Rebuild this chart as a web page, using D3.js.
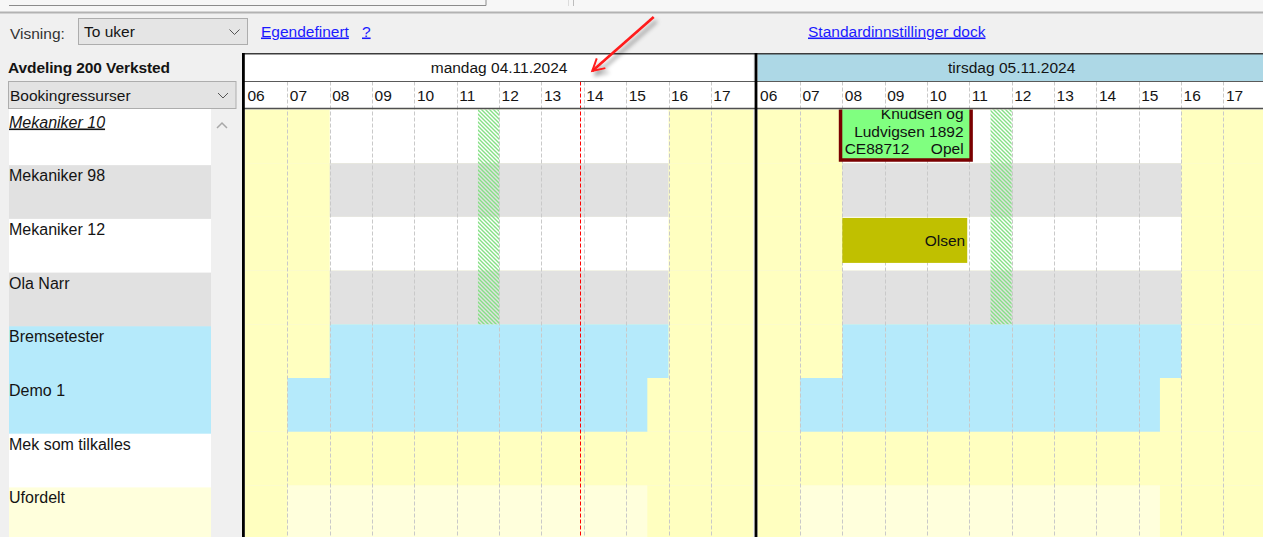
<!DOCTYPE html>
<html>
<head>
<meta charset="utf-8">
<script src="https://cdn.jsdelivr.net/npm/d3@7"></script>
<style>
  html, body { margin: 0; padding: 0; background: #f0f0f0; overflow: hidden; }
  svg { display: block; font-family: "Liberation Sans", Arial, sans-serif; }
  text { fill: #141414; }
</style>
</head>
<body>
<svg></svg>
<script>
// ---- data ----
var days = ["mandag 04.11.2024", "tirsdag 05.11.2024"];
var hourLabels = ["06", "07", "08", "09", "10", "11", "12", "13", "14", "15", "16", "17"];
var resources = ["Mekaniker 10", "Mekaniker 98", "Mekaniker 12", "Ola Narr",
                 "Bremsetester", "Demo 1", "Mek som tilkalles", "Ufordelt"];
var resourceKind = ["person", "person", "person", "person", "machine", "machine", "oncall", "unassigned"];
var workFrom = [8, 8, 8, 8, 8, 7, null, 7];
var workTo = [16, 16, 16, 16, 16, 15.5, null, 15.5];
var lunchRows = ["Mekaniker 10", "Mekaniker 98", "Mekaniker 12", "Ola Narr"];
var lunchFrom = 11.5, lunchTo = 12;
var bookingResource = ["Mekaniker 10", "Mekaniker 12"];
var bookingDay = [1, 1];
var bookingFrom = [8, 8];
var bookingTo = [11, 10.95];
var bookingText = [["Knudsen og", "Ludvigsen 1892", "CE88712     Opel"], ["Olsen"]];
var bookingStatus = ["arrived", "planned"];
var nowDay = 0, nowHour = 13.9;
var viewChoice = "To uker", listChoice = "Bookingressurser", department = "Avdeling 200 Verksted";

// ---- layout ----
var width = 1263, height = 537;
var headTop = 53, dayRowBottom = 81.5, hourRowBottom = 108.5, rowH = 53.7;

var hourX = d3.scaleLinear().domain([6, 18]).range([0, 508.2]);
var dayX = d3.scaleLinear().domain([0, 1]).range([245, 757.6]);
function tx(day, h) { return dayX(day) + hourX(h); }

var y = d3.scaleBand().domain(resources).range([109.5, 109.5 + resources.length * rowH]);
var yList = d3.scaleBand().domain(resources).range([111.5, 111.5 + resources.length * rowH]);

var offColor = "#ffffc0";
function workColor(i) {
  var k = resourceKind[i];
  if (k == "person") return i % 2 ? "#e1e1e1" : "#ffffff";
  if (k == "machine") return "#b5eafb";
  if (k == "unassigned") return "#ffffdc";
  return offColor;
}
function listColor(i) {
  return resourceKind[i] == "oncall" ? "#ffffff" : workColor(i);
}
var statusStyle = {
  arrived: {fill: "#80ff80", stroke: "#7a0000", sw: 3.5, top: -3, h: 53.5, pad: 7.5, first: 9.8},
  planned: {fill: "#c0c000", stroke: "none", sw: 0, top: 1, h: 45, pad: 2, first: 0}
};

var svg = d3.select("svg").attr("width", width).attr("height", height);
var defs = svg.append("defs");

// hatch for lunch
defs.append("pattern")
    .attr("id", "hatch")
    .attr("patternUnits", "userSpaceOnUse")
    .attr("width", 4).attr("height", 4)
  .append("path")
    .attr("d", "M-1,-1 L5,5 M-1,3 L1,5 M3,-1 L5,1")
    .attr("stroke", "#86e086")
    .attr("stroke-width", 1.4);

defs.append("clipPath").attr("id", "chartClip")
  .append("rect").attr("x", 242).attr("y", headTop).attr("width", width - 242).attr("height", height - headTop);
defs.append("clipPath").attr("id", "rowsClip")
  .append("rect").attr("x", 242).attr("y", y.range()[0]).attr("width", width - 242).attr("height", height - y.range()[0]);

var shadow = defs.append("filter").attr("id", "shadow").attr("x", "-30%").attr("y", "-30%").attr("width", "160%").attr("height", "160%");
shadow.append("feDropShadow").attr("dx", 3).attr("dy", 4).attr("stdDeviation", 2)
    .attr("flood-color", "#000").attr("flood-opacity", 0.4);

defs.append("marker")
    .attr("id", "head")
    .attr("viewBox", "0 0 12 12")
    .attr("refX", 10).attr("refY", 6)
    .attr("markerWidth", 6).attr("markerHeight", 6)
    .attr("markerUnits", "strokeWidth")
    .attr("orient", "auto")
  .append("path")
    .attr("d", "M1,1 L10,6 L1,11")
    .attr("fill", "none")
    .attr("stroke", "#ff1a1a")
    .attr("stroke-width", 1.5);

// ---- window chrome / toolbar ----
svg.append("rect").attr("width", width).attr("height", height).attr("fill", "#f0f0f0");
svg.append("rect").attr("width", width).attr("height", 12).attr("fill", "#f7f7f7");
svg.append("path").attr("d", "M9,5.5 H486 V0").attr("fill", "none").attr("stroke", "#8c8c8c");
svg.append("line").attr("x1", 568.5).attr("x2", 568.5).attr("y1", 0).attr("y2", 6).attr("stroke", "#dcdcdc");
svg.append("line").attr("x1", 573.5).attr("x2", 573.5).attr("y1", 0).attr("y2", 6).attr("stroke", "#bdbdbd");
svg.append("line").attr("x1", 0).attr("x2", width).attr("y1", 12.5).attr("y2", 12.5).attr("stroke", "#b2b2b2").attr("stroke-width", 2);

svg.append("text").attr("x", 10).attr("y", 38.5).style("font-size", "15.5px").style("fill", "#333").text("Visning:");
function combo(x, yy, w, h, label, fill, textX) {
  svg.append("rect").attr("x", x).attr("y", yy).attr("width", w).attr("height", h)
      .attr("fill", fill).attr("stroke", "#adadad");
  svg.append("text").attr("x", textX).attr("y", yy + h / 2 + 5.5)
      .style("font-size", "15.5px").text(label);
  var cx = x + w - 13, cy = yy + h / 2;
  svg.append("path").attr("d", `M${cx - 5},${cy - 2} L${cx},${cy + 3} L${cx + 5},${cy - 2}`)
      .attr("fill", "none").attr("stroke", "#555");
}
combo(78.5, 18.5, 169, 26, viewChoice, "#e5e5e5", 84);

function link(x, yy, label) {
  svg.append("text").attr("x", x).attr("y", yy)
      .style("font-size", "15.5px").style("fill", "#1a1aff")
      .style("text-decoration", "underline").text(label);
}
link(261, 36.5, "Egendefinert");
link(362, 36.5, "?");
link(808, 36.5, "Standardinnstillinger dock");

// ---- left list ----
svg.append("text").attr("x", 8).attr("y", 72.5)
    .style("font-size", "15.5px").style("font-weight", "bold").style("letter-spacing", "-0.1px")
    .text(department);
combo(8.5, 81.5, 227.5, 27, listChoice, "#e3e3e3", 10);

var list = svg.append("g");
list.selectAll("rect")
  .data(resources)
  .enter()
  .append("rect")
    .attr("x", 9)
    .attr("y", (d, i) => i == 0 ? 109 : yList(d))
    .attr("width", 202)
    .attr("height", (d, i) => i == 0 ? yList.bandwidth() + yList(d) - 109 : yList.bandwidth() + 0.5)
    .attr("fill", (d, i) => listColor(i));
list.selectAll("text")
  .data(resources)
  .enter()
  .append("text")
    .attr("x", 9)
    .attr("y", d => yList(d) + 16)
    .style("font-size", "16px")
    .style("font-style", (d, i) => i == 0 ? "italic" : null)
    .style("text-decoration", (d, i) => i == 0 ? "underline" : null)
    .text(d => d);

// scrollbar
svg.append("rect").attr("x", 212).attr("y", 109).attr("width", 24).attr("height", height - 109).attr("fill", "#f0f0f0");
svg.append("path").attr("d", "M217,128 L222,123 L227,128").attr("fill", "none")
    .attr("stroke", "#a8a8a8").attr("stroke-width", 1.5);

// ---- chart ----
var chart = svg.append("g").attr("clip-path", "url(#chartClip)");
var dayIdx = d3.range(days.length);

// day header
chart.selectAll(".dayHead")
  .data(dayIdx)
  .enter()
  .append("rect")
    .attr("x", d => tx(d, 6))
    .attr("y", headTop)
    .attr("width", hourX(18) - hourX(6))
    .attr("height", dayRowBottom - headTop)
    .attr("fill", d => d == 0 ? "#ffffff" : "#add8e6");
chart.selectAll(".dayLabel")
  .data(dayIdx)
  .enter()
  .append("text")
    .attr("x", d => tx(d, 12))
    .attr("y", 72.5)
    .style("text-anchor", "middle")
    .style("font-size", "15.5px")
    .text(d => days[d]);

// hour row
chart.append("rect").attr("x", 245).attr("y", dayRowBottom).attr("width", width - 245)
    .attr("height", hourRowBottom - dayRowBottom).attr("fill", "#ffffff");

// rows: off-hours then working span
var cells = [];
dayIdx.forEach(d => resources.forEach((r, i) => cells.push({day: d, res: r, i: i})));

chart.selectAll(".off")
  .data(cells)
  .enter()
  .append("rect")
    .attr("x", c => tx(c.day, 6))
    .attr("y", c => y(c.res))
    .attr("width", hourX(18) - hourX(6))
    .attr("height", y.bandwidth())
    .attr("fill", offColor);

chart.selectAll(".work")
  .data(cells.filter(c => workFrom[c.i] != null))
  .enter()
  .append("rect")
    .attr("x", c => tx(c.day, workFrom[c.i]))
    .attr("y", c => y(c.res))
    .attr("width", c => hourX(workTo[c.i]) - hourX(workFrom[c.i]))
    .attr("height", y.bandwidth())
    .attr("fill", c => workColor(c.i));

// lunch hatch
chart.selectAll(".lunch")
  .data(dayIdx)
  .enter()
  .append("rect")
    .attr("x", d => tx(d, lunchFrom))
    .attr("y", y(lunchRows[0]))
    .attr("width", hourX(lunchTo) - hourX(lunchFrom))
    .attr("height", y(lunchRows[lunchRows.length - 1]) + y.bandwidth() - y(lunchRows[0]))
    .attr("fill", "url(#hatch)");

// dashed hour lines
var gridHours = d3.range(7, 18);
var grid = [];
dayIdx.forEach(d => gridHours.forEach(h => grid.push({day: d, h: h})));
chart.selectAll(".grid")
  .data(grid)
  .enter()
  .append("line")
    .attr("x1", g => Math.round(tx(g.day, g.h)) + 0.5)
    .attr("x2", g => Math.round(tx(g.day, g.h)) + 0.5)
    .attr("y1", dayRowBottom)
    .attr("y2", height)
    .attr("stroke", "#c9c9c9")
    .attr("stroke-dasharray", "4,2");

// hour labels
var hourCells = [];
dayIdx.forEach(d => hourLabels.forEach((l, k) => hourCells.push({day: d, h: 6 + k, label: l})));
chart.selectAll(".hour")
  .data(hourCells)
  .enter()
  .append("text")
    .attr("x", c => tx(c.day, c.h) + 2.5)
    .attr("y", 101)
    .style("font-size", "15.5px")
    .text(c => c.label);

// bookings
var bookings = bookingResource.map((r, i) => ({
  res: r, day: bookingDay[i], from: bookingFrom[i], to: bookingTo[i],
  lines: bookingText[i], st: statusStyle[bookingStatus[i]], id: i
}));
var bg = chart.append("g").attr("clip-path", "url(#rowsClip)")
  .selectAll(".booking")
  .data(bookings)
  .enter()
  .append("g");
bg.append("rect")
    .attr("x", b => tx(b.day, b.from) - b.st.sw / 2)
    .attr("y", b => y(b.res) + b.st.top)
    .attr("width", b => hourX(b.to) - hourX(b.from) + b.st.sw)
    .attr("height", b => b.st.h)
    .attr("fill", b => b.st.fill)
    .attr("stroke", b => b.st.stroke)
    .attr("stroke-width", b => b.st.sw);
bg.each(function (b) {
  var x0 = tx(b.day, b.from), x1 = tx(b.day, b.to);
  var top = Math.max(y(b.res), y(b.res) + b.st.top + b.st.sw / 2);
  var bottom = y(b.res) + b.st.top + b.st.h - b.st.sw / 2;
  defs.append("clipPath").attr("id", "bclip" + b.id)
    .append("rect").attr("x", x0).attr("y", top).attr("width", x1 - x0).attr("height", bottom - top);
  var lh = 17.4;
  var first = b.lines.length == 1 ? (top + bottom) / 2 + 5.5 : y(b.res) + b.st.first;
  d3.select(this).append("g").attr("clip-path", `url(#bclip${b.id})`)
    .selectAll("text")
    .data(b.lines)
    .enter()
    .append("text")
      .attr("x", x1 + b.st.sw / 2 - b.st.pad)
      .attr("y", (l, k) => first + k * lh)
      .style("text-anchor", "end")
      .style("font-size", "15.5px")
      .style("white-space", "pre")
      .style("fill", "#111")
      .text(l => l);
});

// current time
chart.append("line")
    .attr("x1", Math.round(tx(nowDay, nowHour)) + 0.5).attr("x2", Math.round(tx(nowDay, nowHour)) + 0.5)
    .attr("y1", dayRowBottom).attr("y2", height)
    .attr("stroke", "#ff0000")
    .attr("stroke-width", 1)
    .attr("stroke-dasharray", "4,2");

// borders
chart.append("line").attr("x1", 242).attr("x2", width).attr("y1", headTop + 0.5).attr("y2", headTop + 0.5)
    .attr("stroke", "#3c3c3c").attr("stroke-width", 2);
chart.append("line").attr("x1", 242).attr("x2", width).attr("y1", dayRowBottom).attr("y2", dayRowBottom)
    .attr("stroke", "#5a5a5a");
chart.append("line").attr("x1", 242).attr("x2", width).attr("y1", hourRowBottom).attr("y2", hourRowBottom)
    .attr("stroke", "#505050").attr("stroke-width", 1.6);
chart.selectAll(".sep")
  .data(dayIdx)
  .enter()
  .append("line")
    .attr("x1", d => tx(d, 6) - 1.6)
    .attr("x2", d => tx(d, 6) - 1.6)
    .attr("y1", headTop)
    .attr("y2", height)
    .attr("stroke", "#000")
    .attr("stroke-width", 2.8);

// red annotation arrow
svg.append("line")
    .attr("x1", tx(0, 15.65)).attr("y1", 17)
    .attr("x2", tx(0, 14.2)).attr("y2", 71)
    .attr("stroke", "#ff1a1a")
    .attr("stroke-width", 2.6)
    .attr("marker-end", "url(#head)")
    .attr("filter", "url(#shadow)");
</script>
</body>
</html>
